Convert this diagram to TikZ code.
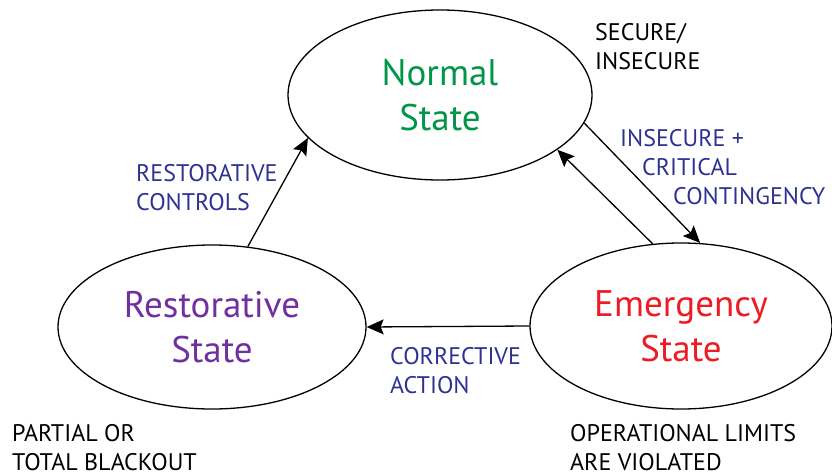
\documentclass[tikz,border=0pt]{standalone}
\usepackage{fontspec}
\setmainfont{PT Sans}
\usetikzlibrary{arrows.meta,shapes.geometric}

\definecolor{normalgreen}{RGB}{0,150,72}
\definecolor{restpurple}{RGB}{112,48,160}
\definecolor{emergred}{RGB}{237,28,36}
\definecolor{actblue}{RGB}{46,49,146}

\begin{document}
\begin{tikzpicture}[>={Stealth[length=17pt,width=15pt,inset=3pt]},
			x=1pt, y=-1pt,
			state/.style={
				draw,
				ellipse,
				line width=1.3pt,
				inner sep=0pt,
				align=center,
				font=\fontsize{37}{45}\selectfont
			},
			note/.style={
				anchor=base west,
				inner sep=0pt,
				align=left,
				font=\fontsize{24}{29}\selectfont
			},
			action/.style={note, text=actblue},
			flow/.style={->, line width=1.3pt}]
			
			\useasboundingbox (0,0) rectangle (832,476);
			
			\node(normal)[state, minimum width=304pt, minimum height=170pt, text=normalgreen] at (440,95){Normal\\State};
			
			\node(rest)[state, minimum width=308pt, minimum height=164pt, text=restpurple] at (212,327){Restorative\\State};
			
			\node(emer)[state, minimum width=302pt, minimum height=166pt, text=emergred] at (681,326){Emergency\\State};
			
			% base of the last line
			\node(secure)[note] at (595,70){SECURE/\\INSECURE};
			
			\node(critical)[action] at (620,204){INSECURE +\\\hspace*{22pt}CRITICAL\\\hspace*{53pt}CONTINGENCY};
			
			\node(restctl)[action] at (136,210){RESTORATIVE\\CONTROLS};
			
			\node(corrective)[action] at (390,393){CORRECTIVE\\ACTION};
			
			\node(blackout)[note] at (12,470){PARTIAL OR\\TOTAL BLACKOUT};
			
			\node(violated)[note] at (570,470){OPERATIONAL LIMITS\\ARE VIOLATED};
			
			\draw[flow](rest.66)--(normal.198);
			
			\draw[flow](normal.-11)--(emer.77);
			
			\draw[flow](emer.109)--(normal.-25);
			
			\draw[flow](emer.west)--(rest.east);
			
		\end{tikzpicture}
\end{document}
